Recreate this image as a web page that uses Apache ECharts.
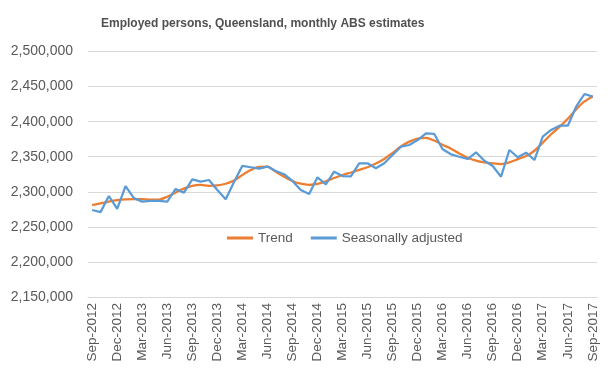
<!DOCTYPE html>
<html>
<head>
<meta charset="utf-8">
<script src="https://cdn.jsdelivr.net/npm/echarts@6/dist/echarts.min.js"></script>
<style>
html,body{margin:0;padding:0;background:#fff;}
#chart{width:612px;height:379px;}
</style>
</head>
<body>
<div id="chart"></div>
<script>
var categories = [
 "Sep-2012","Oct-2012","Nov-2012","Dec-2012","Jan-2013","Feb-2013","Mar-2013","Apr-2013","May-2013","Jun-2013","Jul-2013","Aug-2013",
 "Sep-2013","Oct-2013","Nov-2013","Dec-2013","Jan-2014","Feb-2014","Mar-2014","Apr-2014","May-2014","Jun-2014","Jul-2014","Aug-2014",
 "Sep-2014","Oct-2014","Nov-2014","Dec-2014","Jan-2015","Feb-2015","Mar-2015","Apr-2015","May-2015","Jun-2015","Jul-2015","Aug-2015",
 "Sep-2015","Oct-2015","Nov-2015","Dec-2015","Jan-2016","Feb-2016","Mar-2016","Apr-2016","May-2016","Jun-2016","Jul-2016","Aug-2016",
 "Sep-2016","Oct-2016","Nov-2016","Dec-2016","Jan-2017","Feb-2017","Mar-2017","Apr-2017","May-2017","Jun-2017","Jul-2017","Aug-2017",
 "Sep-2017"
];

var trend = [
 2281000,2283500,2286000,2288000,2289300,2289700,2289700,2289000,2289000,2293000,2299000,2304500,
 2308500,2309700,2308500,2309000,2311500,2316000,2324000,2331000,2335500,2335800,2328500,2321500,
 2315500,2311500,2310000,2311200,2315000,2319700,2324000,2327500,2331200,2335000,2340300,2346800,
 2355500,2364500,2371500,2376000,2377000,2373000,2367000,2361500,2354500,2348500,2344500,2342000,
 2340500,2339600,2342000,2346500,2351000,2358500,2370000,2382000,2392500,2404000,2417500,2428800,
 2436000
];

var seasonallyAdjusted = [
 2274000,2271000,2294000,2275500,2308000,2291000,2286000,2287000,2287000,2286000,2304000,2298700,
 2317800,2314400,2316800,2302500,2289300,2314000,2337000,2335000,2333000,2336000,2329600,2325000,
 2315400,2302500,2296800,2320600,2310700,2328600,2322500,2322000,2340600,2340600,2333500,2340600,
 2352400,2364300,2366700,2373800,2383400,2382400,2360600,2353400,2350000,2346700,2356300,2344300,
 2336800,2321500,2359600,2349200,2355700,2345300,2378500,2388100,2394200,2394200,2421300,2439400,
 2435600
];

var chart = echarts.init(document.getElementById('chart'));
var textColor = '#595959';
var fontFam = '"Liberation Sans", Arial, sans-serif';
chart.setOption({
  animation: false,
  title: {
    text: 'Employed persons, Queensland, monthly ABS estimates',
    left: 96, top: 13,
    textStyle: { fontSize: 12, fontWeight: 'bold', color: '#505050', fontFamily: fontFam }
  },
  legend: {
    data: ['Trend', 'Seasonally adjusted'],
    left: 222, top: 226,
    itemWidth: 26, itemHeight: 3, itemGap: 18,
    icon: 'rect',
    textStyle: { fontSize: 13.5, color: textColor, fontFamily: fontFam }
  },
  grid: { left: 88, right: 15, top: 51.5, bottom: 82, containLabel: false },
  xAxis: {
    type: 'category',
    data: categories,
    boundaryGap: true,
    axisLine: { lineStyle: { color: '#D9D9D9' } },
    axisTick: { show: false },
    axisLabel: { interval: 2, rotate: 90, margin: 6, fontSize: 13.5, color: textColor, fontFamily: fontFam }
  },
  yAxis: {
    type: 'value',
    min: 2150000, max: 2500000, interval: 50000,
    axisLine: { show: false },
    axisTick: { show: false },
    splitLine: { lineStyle: { color: '#D9D9D9', width: 1 } },
    axisLabel: {
      margin: 15, fontSize: 14, color: textColor, fontFamily: fontFam,
      formatter: function (v) { return v.toLocaleString('en-US'); }
    }
  },
  series: [
    { name: 'Trend', type: 'line', data: trend, smooth: 0.3, symbol: 'none',
      lineStyle: { color: '#ED7D31', width: 2.25 }, itemStyle: { color: '#ED7D31' } },
    { name: 'Seasonally adjusted', type: 'line', data: seasonallyAdjusted, symbol: 'none',
      lineStyle: { color: '#5B9BD5', width: 2.25 }, itemStyle: { color: '#5B9BD5' } }
  ]
});
</script>
</body>
</html>
